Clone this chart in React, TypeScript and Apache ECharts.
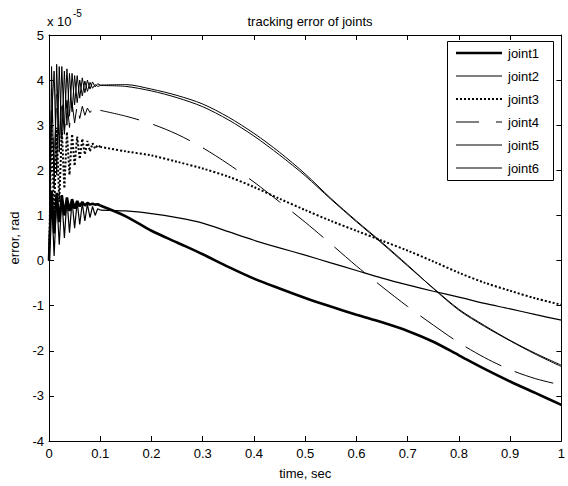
import React, { useEffect, useRef } from "react";
import * as echarts from "echarts";

// time samples (s)
const tOsc = [0, 0.005, 0.01, 0.015, 0.02, 0.025, 0.03, 0.035, 0.04, 0.045, 0.05, 0.055, 0.06, 0.065, 0.07, 0.075, 0.08, 0.085, 0.09, 0.095];
const tMain = [0.1, 0.15, 0.2, 0.25, 0.3, 0.35, 0.4, 0.45, 0.5, 0.55, 0.6, 0.65, 0.7, 0.75, 0.8, 0.85, 0.9, 0.95, 1.0];

// values in units of 1e-5 rad
const joint1Osc = [0, 1.55, 0.6, 1.5, 0.85, 1.45, 1.0, 1.4, 1.1, 1.36, 1.15, 1.32, 1.2, 1.3, 1.22, 1.28, 1.24, 1.26, 1.24, 1.25];
const joint1Main = [1.22, 0.98, 0.66, 0.4, 0.14, -0.14, -0.4, -0.62, -0.83, -1.02, -1.2, -1.37, -1.56, -1.8, -2.1, -2.4, -2.68, -2.94, -3.2];

const joint2Osc = [0, 4.3, 1.6, 4.35, 2.4, 4.3, 2.9, 4.25, 3.2, 4.15, 3.45, 4.1, 3.6, 4.05, 3.72, 4.0, 3.8, 3.96, 3.85, 3.92];
const joint2Main = [3.89, 3.9, 3.8, 3.66, 3.47, 3.18, 2.82, 2.4, 1.92, 1.38, 0.88, 0.4, -0.1, -0.62, -1.1, -1.46, -1.78, -2.08, -2.35];

const joint3Osc = [0, 3.0, 1.0, 2.95, 1.3, 2.9, 1.6, 2.85, 1.9, 2.8, 2.1, 2.75, 2.25, 2.7, 2.35, 2.65, 2.42, 2.6, 2.48, 2.56];
const joint3Main = [2.52, 2.42, 2.33, 2.19, 2.04, 1.86, 1.63, 1.37, 1.12, 0.88, 0.66, 0.44, 0.22, -0.02, -0.27, -0.49, -0.67, -0.84, -0.98];

const joint4Osc = [0, 3.8, 2.0, 3.7, 2.5, 3.6, 2.8, 3.55, 2.95, 3.5, 3.05, 3.45, 3.15, 3.42, 3.22, 3.38, 3.28, 3.36, 3.3, 3.35];
const joint4Main = [3.33, 3.2, 3.03, 2.8, 2.5, 2.14, 1.74, 1.3, 0.85, 0.37, -0.12, -0.58, -1.02, -1.43, -1.82, -2.15, -2.42, -2.62, -2.76];

const joint5Osc = [0, 3.2, 4.2, 1.9, 4.3, 2.7, 4.2, 3.0, 4.15, 3.3, 4.1, 3.5, 4.0, 3.65, 3.98, 3.75, 3.95, 3.82, 3.9, 3.86];
const joint5Main = [3.88, 3.86, 3.76, 3.61, 3.41, 3.12, 2.76, 2.34, 1.88, 1.36, 0.86, 0.38, -0.12, -0.61, -1.08, -1.44, -1.77, -2.06, -2.32];

const joint6Osc = [0, 1.45, 0.1, 1.4, 0.35, 1.38, 0.5, 1.35, 0.62, 1.32, 0.72, 1.3, 0.8, 1.27, 0.88, 1.25, 0.95, 1.2, 1.0, 1.15];
const joint6Main = [1.12, 1.1, 1.04, 0.95, 0.83, 0.64, 0.45, 0.28, 0.12, -0.05, -0.22, -0.39, -0.54, -0.68, -0.81, -0.95, -1.07, -1.2, -1.32];

const seriesNames = ["joint1", "joint2", "joint3", "joint4", "joint5", "joint6"];

const FONT = "Liberation Sans, Arial, Helvetica, sans-serif";

function oscPairs(osc: number[], main: number[]) {
  const p = tOsc.map((x, i) => [x, osc[i]]);
  p.push([tMain[0], main[0]]);
  return p;
}
function mainPairs(main: number[]) {
  return tMain.map((x, i) => [x, main[i]]);
}

export default function App() {
  const ref = useRef<HTMLDivElement>(null);
  useEffect(() => {
    if (!ref.current) return;
    const chart = echarts.init(ref.current, undefined, { renderer: "svg" });
    const oscs = [joint1Osc, joint2Osc, joint3Osc, joint4Osc, joint5Osc, joint6Osc];
    const mains = [joint1Main, joint2Main, joint3Main, joint4Main, joint5Main, joint6Main];
    const styles: any[] = [
      { width: 2.6, type: "solid" },
      { width: 1, type: "solid" },
      { width: 2, type: [2, 2] },
      { width: 1, type: [40, 15] },
      { width: 1, type: "solid" },
      { width: 1.2, type: "solid" },
    ];
    const legendDash: any[] = [null, null, [2, 2], [23, 17], null, null];
    const axisCommonX = {
      type: "value",
      min: 0,
      max: 1,
      interval: 0.1,
      splitLine: { show: false },
      axisLine: { show: true, onZero: false, lineStyle: { color: "#000", width: 1 } },
      axisTick: { show: true, inside: true, length: 5, lineStyle: { color: "#000" } },
    };
    const axisCommonY = {
      type: "value",
      min: -4,
      max: 5,
      interval: 1,
      splitLine: { show: false },
      axisLine: { show: true, onZero: false, lineStyle: { color: "#000", width: 1 } },
      axisTick: { show: true, inside: true, length: 5, lineStyle: { color: "#000" } },
    };

    const series: any[] = [];
    seriesNames.forEach((name, i) => {
      series.push({
        name,
        type: "line",
        data: oscPairs(oscs[i], mains[i]),
        symbol: "none",
        lineStyle: { color: "#000", ...styles[i] },
        z: 2 + i,
      });
      series.push({
        name,
        type: "line",
        data: mainPairs(mains[i]),
        symbol: "none",
        smooth: 0.3,
        lineStyle: { color: "#000", ...styles[i] },
        z: 2 + i,
      });
    });

    // legend drawn as graphic elements
    const lgX = 447, lgY = 41, lgW = 106, lgH = 139;
    const legendEls: any[] = [
      {
        type: "rect",
        shape: { x: lgX + 0.5, y: lgY + 0.5, width: lgW, height: lgH },
        style: { fill: "#fff", stroke: "#000", lineWidth: 1 },
        z: 100,
      },
    ];
    seriesNames.forEach((name, i) => {
      const cy = lgY + 12 + i * 23;
      legendEls.push({
        type: "line",
        shape: { x1: lgX + 9, y1: cy, x2: lgX + 55, y2: cy },
        style: {
          stroke: "#000",
          lineWidth: styles[i].width,
          lineDash: legendDash[i] || undefined,
        },
        z: 101,
      });
      legendEls.push({
        type: "text",
        x: lgX + 61,
        y: cy,
        style: {
          text: name,
          fontSize: 13,
          fill: "#000",
          fontFamily: FONT,
          verticalAlign: "middle",
          align: "left",
        },
        z: 101,
      });
    });

    chart.setOption({
      animation: false,
      backgroundColor: "#fff",
      textStyle: { fontFamily: FONT },
      title: {
        text: "tracking error of joints",
        left: 305,
        top: 10,
        textAlign: "center",
        textStyle: { fontSize: 13, fontWeight: "normal", color: "#000", fontFamily: FONT },
      },
      grid: { left: 47, top: 35, right: 5, bottom: 45, containLabel: false },
      xAxis: [
        {
          ...axisCommonX,
          position: "bottom",
          name: "time, sec",
          nameLocation: "middle",
          nameGap: 26,
          nameTextStyle: { fontSize: 13, color: "#000", fontFamily: FONT },
          axisLabel: {
            color: "#000",
            fontSize: 13,
            margin: 6,
            fontFamily: FONT,
            formatter: (v: number) => String(+v.toFixed(1)),
          },
        },
        { ...axisCommonX, position: "top", axisLabel: { show: false } },
      ],
      yAxis: [
        {
          ...axisCommonY,
          position: "left",
          name: "error, rad",
          nameLocation: "middle",
          nameGap: 28,
          nameRotate: 90,
          nameTextStyle: { fontSize: 13, color: "#000", fontFamily: FONT },
          axisLabel: { color: "#000", fontSize: 13, margin: 5, fontFamily: FONT },
        },
        { ...axisCommonY, position: "right", axisLabel: { show: false } },
      ],
      graphic: [
        {
          type: "text",
          left: 47,
          top: 15,
          style: { text: "x 10", fontSize: 13, fill: "#000", fontFamily: FONT },
        },
        {
          type: "text",
          left: 73,
          top: 8,
          style: { text: "-5", fontSize: 10, fill: "#000", fontFamily: FONT },
        },
        ...legendEls,
      ],
      series,
    });
    return () => chart.dispose();
  }, []);
  return (
    <div
      ref={ref}
      style={{ position: "absolute", left: 0, top: 0, width: 568, height: 486 }}
    />
  );
}
